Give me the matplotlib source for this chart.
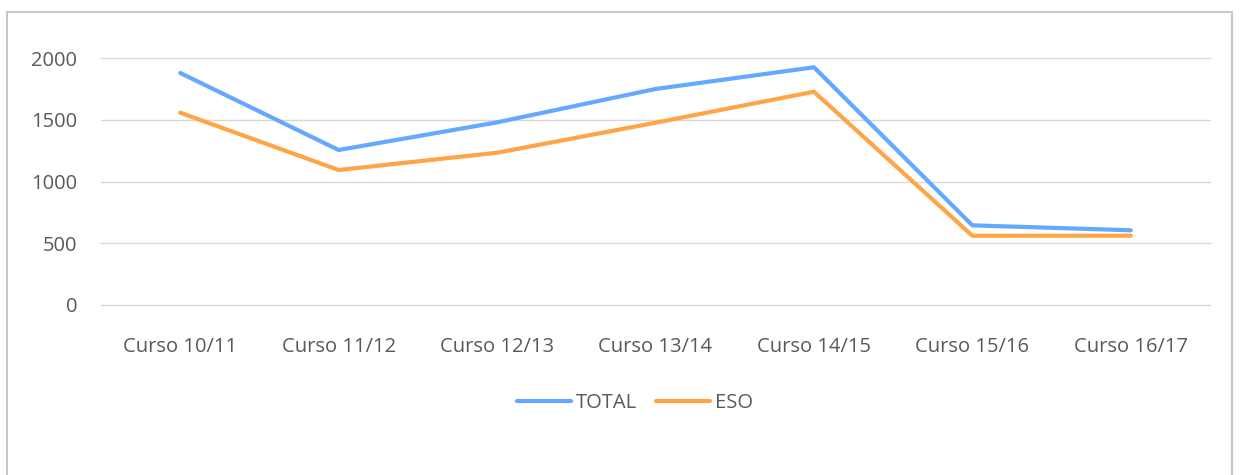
import matplotlib.pyplot as plt
from matplotlib.patches import Rectangle

cursos = ["Curso 10/11", "Curso 11/12", "Curso 12/13", "Curso 13/14",
          "Curso 14/15", "Curso 15/16", "Curso 16/17"]
total = [1879, 1255, 1479, 1749, 1925, 645, 605]
eso = [1557, 1093, 1233, 1476, 1727, 561, 561]
yticks = [0, 500, 1000, 1500, 2000]

plt.rcParams['font.family'] = ['Open Sans', 'DejaVu Sans']
txt = "#595959"
fs = 14.5

W, H = 1240, 475
fig = plt.figure(figsize=(W / 100, H / 100), dpi=100)

# outer chart frame (cut off at the bottom)
fig.patches.append(Rectangle((7 / W, -0.1), (1232 - 7) / W, 1.1 - 12 / H,
                             transform=fig.transFigure, fill=False,
                             edgecolor="#C8C8C8", linewidth=1.5))

ax = fig.add_axes([101 / W, 1 - 305 / H, (1210 - 101) / W, (305 - 58) / H])
x = range(len(cursos))
ax.plot(x, total, color="#64A8FF", linewidth=3, solid_capstyle="round",
        solid_joinstyle="round", label="TOTAL")
ax.plot(x, eso, color="#FFA545", linewidth=3, solid_capstyle="round",
        solid_joinstyle="round", label="ESO")

ax.set_xlim(-0.5, len(cursos) - 0.5)
ax.set_ylim(0, 2000)
ax.set_yticks(yticks)
ax.set_xticks(list(x))
ax.set_xticklabels(cursos)
ax.grid(axis="y", color="#D9D9D9", linewidth=1)
for gl in ax.get_ygridlines():
    gl.set_clip_on(False)
ax.set_axisbelow(True)
for s in ax.spines.values():
    s.set_visible(False)
ax.tick_params(length=0, colors=txt, labelsize=fs)
ax.tick_params(axis="y", pad=17)
ax.tick_params(axis="x", pad=23)

fig.legend(loc="center", bbox_to_anchor=(635 / W, 1 - 403 / H), ncol=2,
           frameon=False, fontsize=fs, labelcolor=txt, handlelength=2.7,
           handletextpad=0.25, columnspacing=0.9)

fig.savefig("out.png", dpi=100, facecolor="white")
